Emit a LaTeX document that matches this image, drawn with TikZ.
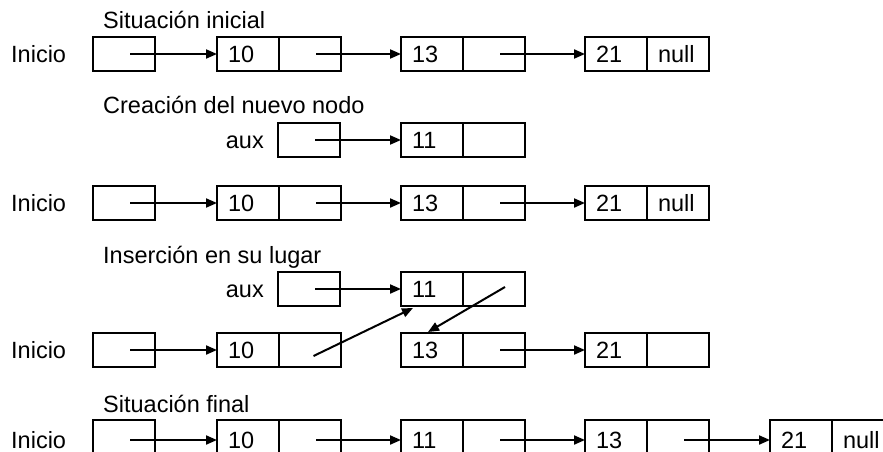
\documentclass[tikz,border=0pt]{standalone}
\usepackage{fontspec}
\setmainfont{Liberation Sans}
\usetikzlibrary{arrows.meta}

% one list element: data cell + pointer cell
% #1 extra style, #2 name, #3 left x, #4 top y, #5 value, #6 pointer text
\newcommand\lnode[6][]{%
  \node[datacell, #1, anchor=north west] (#2d) at (#3,#4) {#5};
  \node[datacell, #1, anchor=west] (#2p) at (#2d.east) {#6};}

\begin{document}
\begin{tikzpicture}[x=1pt, y=-1pt,
  font=\fontsize{23.5}{28}\selectfont,
  cell/.style={draw, line width=2pt, rectangle, minimum width=62pt,
    minimum height=34pt, inner sep=0pt, outer sep=0pt},
  datacell/.style={cell, text width=62pt, align=left, text height=16.8pt,
    text depth=0pt, execute at begin node=\hspace*{11pt}},
  tall/.style={minimum height=40pt},
  lbl/.style={inner sep=0pt, text height=16.8pt, text depth=0pt},
  link/.style={line width=2pt, -{Triangle[length=11pt,width=9pt]}},
]
\useasboundingbox (0,0) rectangle (883,452);

% --- initial situation
\node[lbl, anchor=west] (t1) at (103,20) {Situación inicial};
\node[lbl, anchor=west] (ini1) at (11,54) {Inicio};
\node[cell, anchor=north west] (i1) at (93,37) {};
\lnode{a1}{217}{37}{10}{}
\lnode{b1}{401}{37}{13}{}
\lnode{c1}{585}{37}{21}{null}
\draw[link] ([xshift=6pt]i1.center) -- (a1d.west);
\draw[link] ([xshift=6pt]a1p.center) -- (b1d.west);
\draw[link] ([xshift=6pt]b1p.center) -- (c1d.west);

% --- new node created
\node[lbl, anchor=west] (t2) at (103,105) {Creación del nuevo nodo};
\node[lbl, anchor=east] (aux2) at (264,140) {aux};
\node[cell, anchor=north west] (x2box) at (278,123) {};
\lnode{x2}{401}{123}{11}{}
\draw[link] ([xshift=6pt]x2box.center) -- (x2d.west);

\node[lbl, anchor=west] (ini2) at (11,203) {Inicio};
\node[cell, anchor=north west] (i2) at (93,186) {};
\lnode{a2}{217}{186}{10}{}
\lnode{b2}{401}{186}{13}{}
\lnode{c2}{585}{186}{21}{null}
\draw[link] ([xshift=6pt]i2.center) -- (a2d.west);
\draw[link] ([xshift=6pt]a2p.center) -- (b2d.west);
\draw[link] ([xshift=6pt]b2p.center) -- (c2d.west);

% --- insertion
\node[lbl, anchor=west] (t3) at (103,255) {Inserción en su lugar};
\node[lbl, anchor=east] (aux3) at (264,289) {aux};
\node[cell, anchor=north west] (x3box) at (278,272) {};
\lnode{x3}{401}{272}{11}{}
\draw[link] ([xshift=6pt]x3box.center) -- (x3d.west);

\node[lbl, anchor=west] (ini3) at (11,350) {Inicio};
\node[cell, anchor=north west] (i3) at (93,333) {};
\lnode{a3}{217}{333}{10}{}
\lnode{b3}{401}{333}{13}{}
\lnode{c3}{585}{333}{21}{}
\draw[link] ([xshift=6pt]i3.center) -- (a3d.west);
\draw[link] ([xshift=6pt]b3p.center) -- (c3d.west);
\draw[link] ([xshift=3.5pt,yshift=-6pt]a3p.center) -- ([xshift=12pt,yshift=-2pt]x3d.south west);
\draw[link] ([xshift=11pt,yshift=2pt]x3p.center) -- ([xshift=27pt,yshift=1pt]b3d.north west);

% --- final situation
\node[lbl, anchor=west] (t4) at (103,404) {Situación final};
\node[lbl, anchor=west] (ini4) at (11,440) {Inicio};
\node[cell, tall, anchor=north west] (i4) at (93,420) {};
\lnode[tall]{a4}{217}{420}{10}{}
\lnode[tall]{x4}{401}{420}{11}{}
\lnode[tall]{b4}{585}{420}{13}{}
\lnode[tall]{c4}{770}{420}{21}{null}
\draw[link] ([xshift=6pt]i4.center) -- (a4d.west);
\draw[link] ([xshift=6pt]a4p.center) -- (x4d.west);
\draw[link] ([xshift=6pt]x4p.center) -- (b4d.west);
\draw[link] ([xshift=6pt]b4p.center) -- (c4d.west);
\end{tikzpicture}
\end{document}
